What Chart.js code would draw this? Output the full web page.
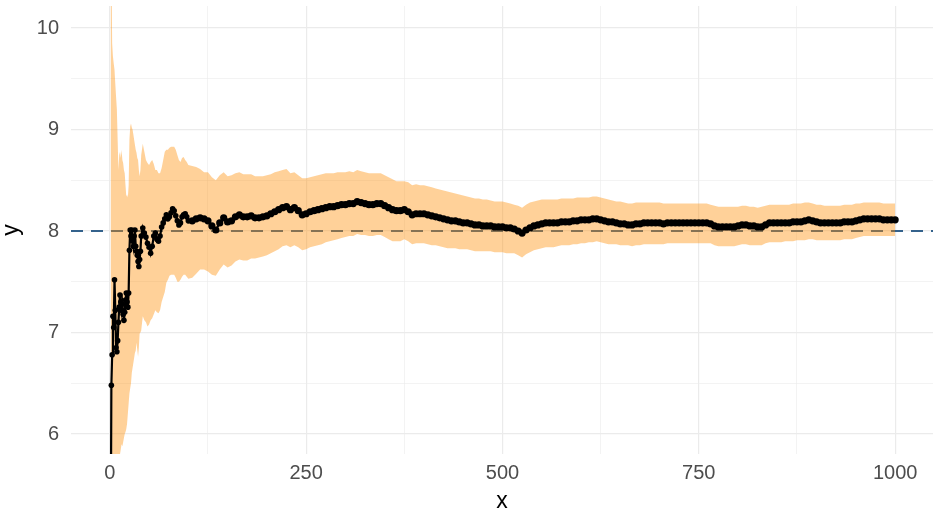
<!DOCTYPE html>
<html lang="en">
<head>
    <meta charset="UTF-8">
    <title>Running mean with band</title>
    <script src="https://cdn.jsdelivr.net/npm/chart.js"></script>
    <style>
        body { margin: 0; background: #fff; }
        .chart-box { width: 937px; height: 515px; }
    </style>
</head>
<body>
    <div class="chart-box"><canvas id="chart"></canvas></div>

    <script>
        // x positions of the running estimate
        const xs = [
            1, 2, 3, 4, 5, 6, 7, 8, 9, 10, 11, 12, 13, 14, 15, 16, 17, 18, 19, 20,
            21, 22, 23, 24, 25, 26, 27, 28, 29, 30, 31, 32, 33, 34, 35, 36, 37, 38, 39, 40,
            42, 44, 46, 48, 50, 52, 54, 56, 58, 60, 62, 64, 66, 68, 70, 72, 74, 76, 78, 80,
            82, 84, 86, 88, 90, 92, 94, 96, 98, 100,
            105, 110, 115, 120, 125, 130, 135, 140, 145, 150,
            155, 160, 165, 170, 175, 180, 185, 190, 195, 200,
            205, 210, 215, 220, 225, 230, 235, 240, 245, 250,
            255, 260, 265, 270, 275, 280, 285, 290, 295, 300,
            305, 310, 315, 320, 325, 330, 335, 340, 345, 350,
            355, 360, 365, 370, 375, 380, 385, 390, 395, 400,
            405, 410, 415, 420, 425, 430, 435, 440, 445, 450,
            455, 460, 465, 470, 475, 480, 485, 490, 495, 500,
            505, 510, 515, 520, 525, 530, 535, 540, 545, 550,
            555, 560, 565, 570, 575, 580, 585, 590, 595, 600,
            605, 610, 615, 620, 625, 630, 635, 640, 645, 650,
            655, 660, 665, 670, 675, 680, 685, 690, 695, 700,
            705, 710, 715, 720, 725, 730, 735, 740, 745, 750,
            755, 760, 765, 770, 775, 780, 785, 790, 795, 800,
            805, 810, 815, 820, 825, 830, 835, 840, 845, 850,
            855, 860, 865, 870, 875, 880, 885, 890, 895, 900,
            905, 910, 915, 920, 925, 930, 935, 940, 945, 950,
            955, 960, 965, 970, 975, 980, 985, 990, 995, 1000
        ];

        // running mean
        const meanY = [
            4.5, 6.48, 6.78, 7.16, 7.05, 7.52, 7.22, 6.85, 6.81, 6.92, 7.10, 7.25, 7.37, 7.30, 7.22, 7.28, 7.18, 7.12, 7.20, 7.32,
            7.39, 7.30, 7.25, 7.39, 7.81, 8.01, 7.95, 8.01, 7.90, 7.85, 7.95, 8.01, 7.85, 7.80, 7.76, 7.70, 7.65, 7.72, 7.80, 7.95,
            8.03, 7.98, 7.94, 7.88, 7.84, 7.78, 7.85, 7.95, 7.98, 7.92, 7.90, 7.95, 8.04, 8.08, 8.12, 8.16, 8.12, 8.14, 8.18, 8.22,
            8.20, 8.15, 8.10, 8.06, 8.08, 8.14, 8.16, 8.17, 8.14, 8.10,
            8.10, 8.12, 8.13, 8.12, 8.10, 8.05, 8.01, 8.08, 8.13, 8.09,
            8.10, 8.14, 8.16, 8.14, 8.14, 8.15, 8.13, 8.13, 8.14, 8.15,
            8.17, 8.19, 8.21, 8.23, 8.24, 8.21, 8.23, 8.20, 8.16, 8.17,
            8.19, 8.20, 8.21, 8.22, 8.23, 8.24, 8.24, 8.25, 8.26, 8.26,
            8.27, 8.27, 8.29, 8.28, 8.27, 8.26, 8.26, 8.27, 8.27, 8.25,
            8.23, 8.21, 8.20, 8.20, 8.21, 8.19, 8.16, 8.17, 8.17, 8.17,
            8.16, 8.15, 8.14, 8.13, 8.12, 8.11, 8.10, 8.10, 8.09, 8.08,
            8.08, 8.07, 8.06, 8.06, 8.05, 8.05, 8.05, 8.04, 8.04, 8.04,
            8.03, 8.03, 8.02, 8.00, 7.98, 8.01, 8.03, 8.05, 8.06, 8.07,
            8.08, 8.08, 8.08, 8.08, 8.09, 8.09, 8.09, 8.10, 8.10, 8.11,
            8.11, 8.11, 8.12, 8.12, 8.11, 8.10, 8.09, 8.09, 8.08, 8.07,
            8.07, 8.06, 8.06, 8.07, 8.07, 8.08, 8.08, 8.08, 8.08, 8.08,
            8.07, 8.08, 8.08, 8.08, 8.08, 8.08, 8.08, 8.08, 8.08, 8.08,
            8.08, 8.08, 8.07, 8.05, 8.04, 8.04, 8.04, 8.04, 8.04, 8.05,
            8.06, 8.06, 8.05, 8.05, 8.04, 8.04, 8.06, 8.08, 8.08, 8.08,
            8.08, 8.08, 8.08, 8.09, 8.09, 8.09, 8.10, 8.11, 8.10, 8.09,
            8.08, 8.08, 8.08, 8.08, 8.08, 8.08, 8.09, 8.09, 8.09, 8.10,
            8.11, 8.12, 8.12, 8.12, 8.12, 8.12, 8.11, 8.11, 8.11, 8.11
        ];

        // upper edge of the band
        const upperY = [
            16, 10.8, 9.85, 9.72, 9.65, 9.59, 9.45, 9.32, 9.2, 8.9, 8.6, 8.75, 8.78, 8.72, 8.8, 8.7, 8.67, 8.6, 8.57, 8.45,
            8.34, 8.36, 8.33, 8.45, 8.9, 9.03, 9.06, 9.02, 9.0, 8.95, 8.9, 8.85, 8.8, 8.77, 8.72, 8.7, 8.6, 8.54, 8.6, 8.75,
            8.86, 8.78, 8.7, 8.67, 8.65, 8.68, 8.7, 8.66, 8.6, 8.6, 8.57, 8.57, 8.62, 8.7, 8.78, 8.8, 8.8, 8.82, 8.83, 8.83,
            8.83, 8.8, 8.75, 8.7, 8.68, 8.72, 8.73, 8.7, 8.68, 8.65,
            8.64, 8.63, 8.61, 8.58, 8.58, 8.53, 8.50, 8.55, 8.58, 8.54,
            8.55, 8.57, 8.58, 8.56, 8.56, 8.56, 8.54, 8.54, 8.54, 8.55,
            8.56, 8.58, 8.59, 8.60, 8.61, 8.57, 8.58, 8.55, 8.52, 8.52,
            8.53, 8.54, 8.55, 8.56, 8.57, 8.57, 8.57, 8.58, 8.58, 8.58,
            8.59, 8.58, 8.60, 8.59, 8.58, 8.57, 8.57, 8.57, 8.57, 8.55,
            8.53, 8.51, 8.49, 8.49, 8.49, 8.48, 8.45, 8.46, 8.45, 8.45,
            8.44, 8.43, 8.42, 8.41, 8.40, 8.39, 8.38, 8.37, 8.36, 8.35,
            8.34, 8.33, 8.32, 8.32, 8.31, 8.31, 8.30, 8.29, 8.29, 8.29,
            8.28, 8.27, 8.26, 8.25, 8.23, 8.26, 8.28, 8.29, 8.30, 8.31,
            8.31, 8.31, 8.31, 8.31, 8.32, 8.32, 8.32, 8.32, 8.33, 8.33,
            8.33, 8.33, 8.34, 8.34, 8.33, 8.32, 8.31, 8.30, 8.29, 8.29,
            8.28, 8.27, 8.27, 8.28, 8.28, 8.28, 8.28, 8.28, 8.28, 8.28,
            8.27, 8.27, 8.27, 8.27, 8.27, 8.27, 8.27, 8.27, 8.27, 8.27,
            8.27, 8.27, 8.26, 8.25, 8.24, 8.24, 8.24, 8.24, 8.24, 8.24,
            8.25, 8.25, 8.24, 8.24, 8.23, 8.24, 8.25, 8.26, 8.26, 8.26,
            8.26, 8.26, 8.26, 8.27, 8.27, 8.27, 8.28, 8.28, 8.27, 8.26,
            8.26, 8.25, 8.25, 8.25, 8.25, 8.25, 8.26, 8.26, 8.26, 8.27,
            8.27, 8.28, 8.28, 8.28, 8.28, 8.28, 8.27, 8.27, 8.27, 8.27
        ];

        // lower edge of the band
        const lowerY = [
            0, 3.0, 4.0, 4.6, 4.8, 5.4, 5.1, 4.9, 5.0, 5.2, 5.5, 5.72, 5.8, 5.85, 5.9, 5.88, 5.92, 5.96, 6.0, 6.02,
            6.05, 6.1, 6.2, 6.3, 6.4, 6.45, 6.5, 6.6, 6.65, 6.7, 6.75, 6.8, 6.82, 6.9, 6.83, 6.76, 6.85, 6.99, 7.0, 7.02,
            7.16, 7.12, 7.1, 7.06, 7.08, 7.12, 7.14, 7.18, 7.22, 7.2, 7.19, 7.22, 7.3, 7.35, 7.4, 7.49, 7.52, 7.56, 7.57, 7.57,
            7.57, 7.54, 7.5, 7.5, 7.52, 7.55, 7.57, 7.57, 7.55, 7.53,
            7.54, 7.58, 7.62, 7.62, 7.60, 7.57, 7.56, 7.62, 7.67, 7.64,
            7.66, 7.70, 7.72, 7.71, 7.71, 7.73, 7.73, 7.74, 7.75, 7.76,
            7.78, 7.80, 7.82, 7.85, 7.86, 7.84, 7.86, 7.84, 7.81, 7.82,
            7.84, 7.85, 7.86, 7.87, 7.89, 7.90, 7.91, 7.92, 7.93, 7.94,
            7.95, 7.95, 7.97, 7.96, 7.96, 7.95, 7.95, 7.96, 7.96, 7.94,
            7.92, 7.90, 7.90, 7.90, 7.92, 7.90, 7.87, 7.88, 7.88, 7.88,
            7.87, 7.86, 7.86, 7.85, 7.84, 7.83, 7.83, 7.83, 7.82, 7.82,
            7.82, 7.81, 7.80, 7.80, 7.80, 7.80, 7.80, 7.79, 7.79, 7.79,
            7.78, 7.78, 7.78, 7.76, 7.74, 7.77, 7.79, 7.81, 7.82, 7.83,
            7.84, 7.84, 7.84, 7.85, 7.86, 7.86, 7.86, 7.87, 7.87, 7.88,
            7.88, 7.89, 7.89, 7.90, 7.89, 7.88, 7.87, 7.87, 7.87, 7.86,
            7.86, 7.86, 7.85, 7.86, 7.86, 7.87, 7.87, 7.87, 7.87, 7.87,
            7.87, 7.88, 7.88, 7.88, 7.88, 7.88, 7.88, 7.88, 7.88, 7.88,
            7.88, 7.88, 7.88, 7.86, 7.85, 7.85, 7.85, 7.85, 7.85, 7.86,
            7.87, 7.87, 7.86, 7.86, 7.86, 7.86, 7.88, 7.89, 7.89, 7.89,
            7.89, 7.90, 7.90, 7.90, 7.91, 7.91, 7.91, 7.92, 7.92, 7.91,
            7.91, 7.91, 7.91, 7.91, 7.91, 7.91, 7.92, 7.92, 7.92, 7.93,
            7.94, 7.95, 7.95, 7.95, 7.95, 7.95, 7.95, 7.95, 7.95, 7.95
        ];

        // reference value (dashed line) and axis ticks
        const refValue = 8;
        const xTicks = [0, 125, 250, 375, 500, 625, 750, 875, 1000];
        const xLabels = ['0', '', '250', '', '500', '', '750', '', '1000'];
        const yTicks = [6, 6.5, 7, 7.5, 8, 8.5, 9, 9.5, 10];
        const yLabels = ['6', '', '7', '', '8', '', '9', '', '10'];

        const X_MIN = -49.4, X_MAX = 1048.2, Y_MIN = 5.803, Y_MAX = 10.217;

        const pts = (ys) => xs.map((x, i) => ({ x: x, y: ys[i] }));

        const gridColor = '#EBEBEB';
        const fontFamily = '"Liberation Sans", Arial, Helvetica, sans-serif';

        new Chart(document.getElementById('chart'), {
            type: 'line',
            data: {
                datasets: [
                    {
                        // running mean: points joined by a line
                        data: pts(meanY),
                        order: 0,
                        borderColor: '#000',
                        borderWidth: 2.2,
                        pointRadius: c => (c.raw && c.raw.x > 100) ? 3.6 : 2.8,
                        pointBackgroundColor: '#000',
                        pointBorderWidth: 0,
                        fill: false,
                        tension: 0
                    },
                    {
                        data: pts(upperY),
                        order: 1,
                        borderWidth: 0,
                        pointRadius: 0,
                        backgroundColor: 'rgba(255, 140, 0, 0.4)',
                        fill: '+1',
                        tension: 0
                    },
                    {
                        data: pts(lowerY),
                        order: 1,
                        borderWidth: 0,
                        pointRadius: 0,
                        fill: false,
                        tension: 0
                    },
                    {
                        data: [{ x: X_MIN, y: refValue }, { x: X_MAX, y: refValue }],
                        order: 3,
                        borderColor: 'rgb(52, 98, 140)',
                        borderWidth: 2,
                        borderDash: [12, 8],
                        pointRadius: 0,
                        fill: false
                    }
                ]
            },
            options: {
                responsive: true,
                maintainAspectRatio: false,
                animation: false,
                layout: { padding: { left: 0, right: 0, top: 6, bottom: 0 } },
                plugins: {
                    legend: { display: false },
                    tooltip: { enabled: false }
                },
                scales: {
                    x: {
                        type: 'linear',
                        min: X_MIN,
                        max: X_MAX,
                        afterBuildTicks: s => { s.ticks = xTicks.map(v => ({ value: v })); },
                        afterFit: s => { s.height = 61; s.paddingLeft = 0; s.paddingRight = 0; },
                        border: { display: false },
                        grid: {
                            color: gridColor,
                            drawTicks: false,
                            lineWidth: c => (c.tick && xLabels[xTicks.indexOf(c.tick.value)] === '') ? 0.6 : 1.2
                        },
                        ticks: {
                            autoSkip: false,
                            maxRotation: 0,
                            padding: 7,
                            color: '#4D4D4D',
                            font: { family: fontFamily, size: 20 },
                            callback: v => xLabels[xTicks.indexOf(v)]
                        },
                        title: {
                            display: true,
                            text: 'x',
                            color: '#000',
                            font: { family: fontFamily, size: 23 },
                            padding: { top: 0, bottom: 0 }
                        }
                    },
                    y: {
                        min: Y_MIN,
                        max: Y_MAX,
                        afterBuildTicks: s => { s.ticks = yTicks.map(v => ({ value: v })); },
                        afterFit: s => { s.width = 71; s.paddingTop = 0; s.paddingBottom = 0; },
                        border: { display: false },
                        grid: {
                            color: gridColor,
                            drawTicks: false,
                            lineWidth: c => (c.tick && yLabels[yTicks.indexOf(c.tick.value)] === '') ? 0.6 : 1.2
                        },
                        ticks: {
                            autoSkip: false,
                            padding: 12,
                            color: '#4D4D4D',
                            font: { family: fontFamily, size: 20 },
                            callback: v => yLabels[yTicks.indexOf(v)]
                        },
                        title: {
                            display: true,
                            text: 'y',
                            color: '#000',
                            font: { family: fontFamily, size: 23 },
                            padding: { top: -2, bottom: 0 }
                        }
                    }
                }
            }
        });
    </script>
</body>
</html>
